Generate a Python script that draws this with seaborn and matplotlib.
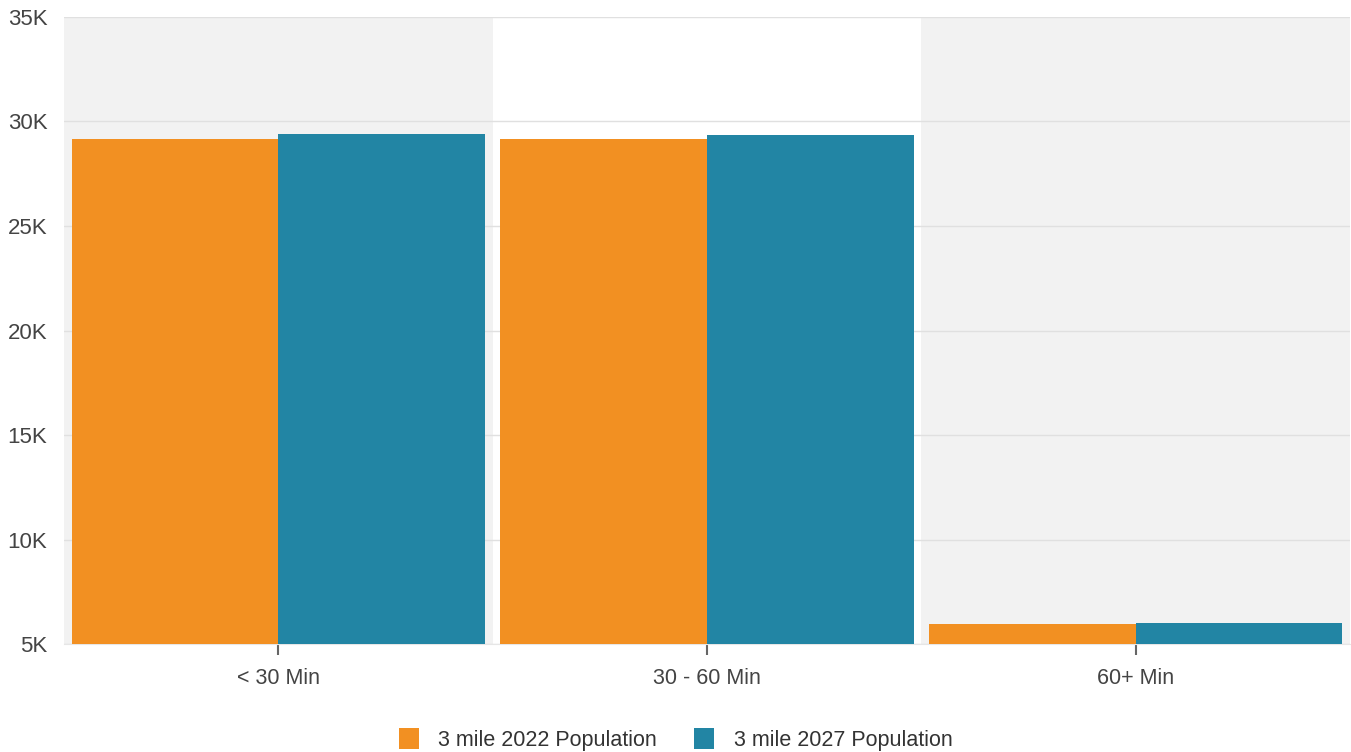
import matplotlib
matplotlib.use("Agg")
import matplotlib.pyplot as plt
import pandas as pd
import seaborn as sns
from matplotlib.patches import Patch
from matplotlib.ticker import FuncFormatter, MultipleLocator

# data
categories = ["< 30 Min", "30 - 60 Min", "60+ Min"]
series_names = ["3 mile 2022 Population", "3 mile 2027 Population"]
pop_2022 = [29140, 29140, 5960]
pop_2027 = [29380, 29340, 6000]
colors = ["#F29022", "#2285A4"]

df = pd.DataFrame({
    "category": categories * 2,
    "series": [series_names[0]] * 3 + [series_names[1]] * 3,
    "value": pop_2022 + pop_2027,
})

sns.set_style("white")
plt.rcParams["font.family"] = ["Liberation Sans", "DejaVu Sans"]

fig = plt.figure(figsize=(13.51, 7.52), dpi=100)
ax = fig.add_axes([0.0474, 0.1436, 0.9518, 0.8338])

# alternating category bands
for i in range(len(categories)):
    if i % 2 == 0:
        ax.axvspan(i - 0.5, i + 0.5, color="#F2F2F2", zorder=0, lw=0)

sns.barplot(
    data=df, x="category", y="value", hue="series",
    palette=colors, width=0.965, linewidth=0, saturation=1,
    ax=ax, legend=False, zorder=3,
)

ax.set_xlim(-0.5, len(categories) - 0.5)
ax.set_ylim(5000, 35000)
ax.yaxis.set_major_locator(MultipleLocator(5000))
ax.yaxis.set_major_formatter(FuncFormatter(lambda v, _: f"{int(v / 1000)}K"))
ax.grid(axis="y", color="#E0E0E0", linewidth=1, zorder=1)
ax.set_axisbelow(True)
ax.set_xlabel("")
ax.set_ylabel("")

for side in ["top", "right", "left"]:
    ax.spines[side].set_visible(False)
ax.spines["bottom"].set_color("#E6E6E6")

ax.tick_params(axis="x", bottom=True, length=8, width=1.5, color="#666666",
               direction="out", labelsize=15.5, labelcolor="#444444", pad=9)
ax.tick_params(axis="y", left=False, length=0, labelsize=16,
               labelcolor="#444444", pad=12)

handles = [Patch(facecolor=c, edgecolor="none", label=n)
           for c, n in zip(colors, series_names)]
fig.legend(handles=handles, loc="lower center", bbox_to_anchor=(0.5, -0.024),
           ncol=2, frameon=False, fontsize=15.5, handlelength=0.95,
           handleheight=1.1, handletextpad=0.9, columnspacing=1.7,
           labelcolor="#333333")

fig.savefig("out.png", dpi=100)
